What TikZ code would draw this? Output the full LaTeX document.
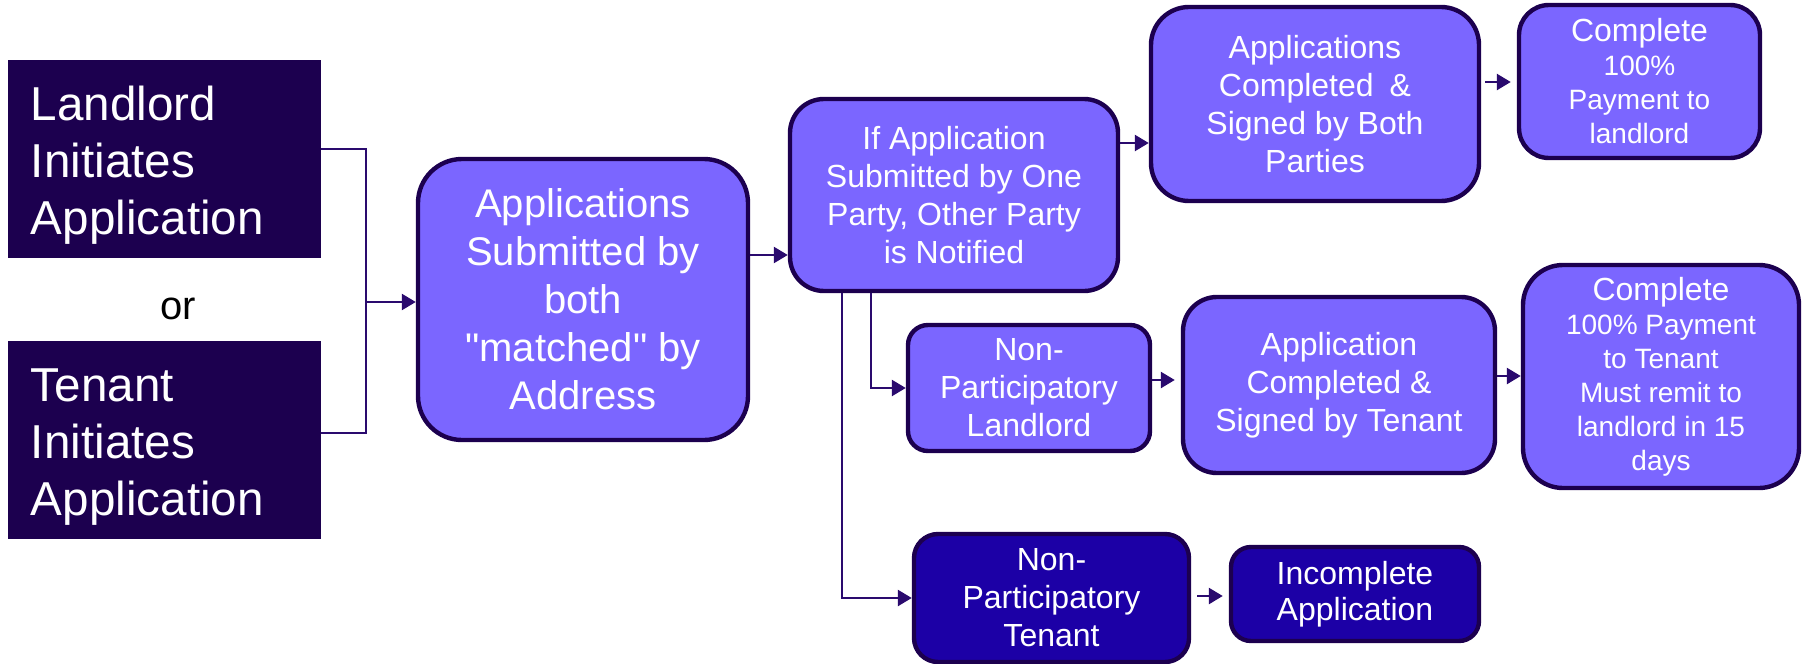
\documentclass[tikz,border=0pt]{standalone}
\usepackage{fontspec}
\setmainfont{Liberation Sans}[Ligatures=TeXOff]
\usetikzlibrary{arrows.meta,calc}
\definecolor{dk}{HTML}{1C004F}
\definecolor{lt}{HTML}{7B66FF}
\definecolor{bl}{HTML}{1C00A6}
\definecolor{cn}{HTML}{2A0A6E}
\begin{document}
\begin{tikzpicture}[x=0.5pt,y=-0.5pt,
  base/.style={draw=dk, line width=2.2pt, text=white, align=center, inner sep=0pt, font=\fontsize{16}{19}\selectfont},
  lbox/.style={base, fill=lt},
  bbox/.style={base, fill=bl},
  sbox/.style={draw=dk, line width=0.8pt, fill=dk, text=white, align=left, inner xsep=11pt, inner ysep=0pt,
     text width=133.5pt, minimum width=155.5pt, minimum height=98pt, font=\fontsize{23.8}{28.7}\selectfont,
     execute at begin node={\rule{0pt}{23.5pt}}},
  conn/.style={draw=cn, line width=1.3pt},
  arr/.style={conn, -{Triangle[length=7pt,width=8pt]}}
]
\useasboundingbox (0,0) rectangle (1805,664);

% source boxes
\node[sbox] (land) at (164.5,159) {Landlord\\Initiates\\Application};
\node[sbox] (ten) at (164.5,440) {Tenant\\Initiates\\Application};
\node[font=\fontsize{20}{24}\selectfont, text=black] (or) at (178,309) {or};

% main flow
\node[lbox, rounded corners=22pt, minimum width=165pt, minimum height=140.5pt, font=\fontsize{20}{24}\selectfont] (main) at (583,299.5)
  {Applications\\Submitted by\\both\\"matched" by\\Address};
\node[lbox, rounded corners=17pt, minimum width=164pt, minimum height=96pt] (ifb) at (954,195)
  {If Application\\Submitted by One\\Party, Other Party\\is Notified};
\node[lbox, rounded corners=19pt, minimum width=164pt, minimum height=97pt] (both) at (1315,104)
  {Applications\\Completed\enspace\&\\Signed by Both\\Parties};
\node[lbox, rounded corners=15pt, minimum width=120.5pt, minimum height=76.5pt, font=\fontsize{14}{17}\selectfont] (comp1) at (1639.5,81.5)
  {{\fontsize{16}{17}\selectfont Complete}\\100\%\\Payment to\\landlord};
\node[lbox, rounded corners=10pt, minimum width=121pt, minimum height=63pt] (npl) at (1029,388)
  {Non-\\Participatory\\Landlord};
\node[lbox, rounded corners=17pt, minimum width=156pt, minimum height=88pt] (apten) at (1339,385)
  {Application\\Completed \&\\Signed by Tenant};
\node[lbox, rounded corners=20pt, minimum width=138pt, minimum height=111.5pt, font=\fontsize{14}{17}\selectfont] (comp2) at (1661,376.5)
  {{\fontsize{16}{17}\selectfont Complete}\\100\% Payment\\to Tenant\\Must remit to\\landlord in 15\\days};
\node[bbox, rounded corners=12pt, minimum width=137.5pt, minimum height=64pt] (npt) at (1051.5,598)
  {Non-\\Participatory\\Tenant};
\node[bbox, rounded corners=10pt, minimum width=124pt, minimum height=47pt, font=\fontsize{16}{18}\selectfont] (inc) at (1355,594)
  {Incomplete\\Application};

% helper coordinates
\coordinate (yL) at (0,149);
\coordinate (yT) at (0,433);
\coordinate (j) at (366,302);
\coordinate (yA) at (0,255);
\coordinate (yB) at (0,143);
\coordinate (yC) at (0,82);
\coordinate (yD) at (0,380);
\coordinate (yE) at (0,376);
\coordinate (yF) at (0,596);
\coordinate (xP) at (871,0);
\coordinate (xQ) at (842,0);

% connectors
\draw[conn] (land.east |- yL) -| (j) |- (ten.east |- yT);
\draw[arr] (j) -- (j -| main.west);
\draw[arr] (main.east |- yA) -- (ifb.west |- yA);
\draw[arr] (ifb.east |- yB) -- (both.west |- yB);
\draw[arr, shorten <=2pt, shorten >=3pt] (both.east |- yC) -- (comp1.west |- yC);
\draw[arr] (ifb.south -| xP) |- (npl.west);
\draw[arr] (ifb.south -| xQ) |- (npt.west);
\draw[arr, shorten >=3pt] (npl.east |- yD) -- (apten.west |- yD);
\draw[arr] (apten.east |- yE) -- (comp2.west |- yE);
\draw[arr, shorten <=3pt, shorten >=3pt] (npt.east |- yF) -- (inc.west |- yF);
\end{tikzpicture}
\end{document}
